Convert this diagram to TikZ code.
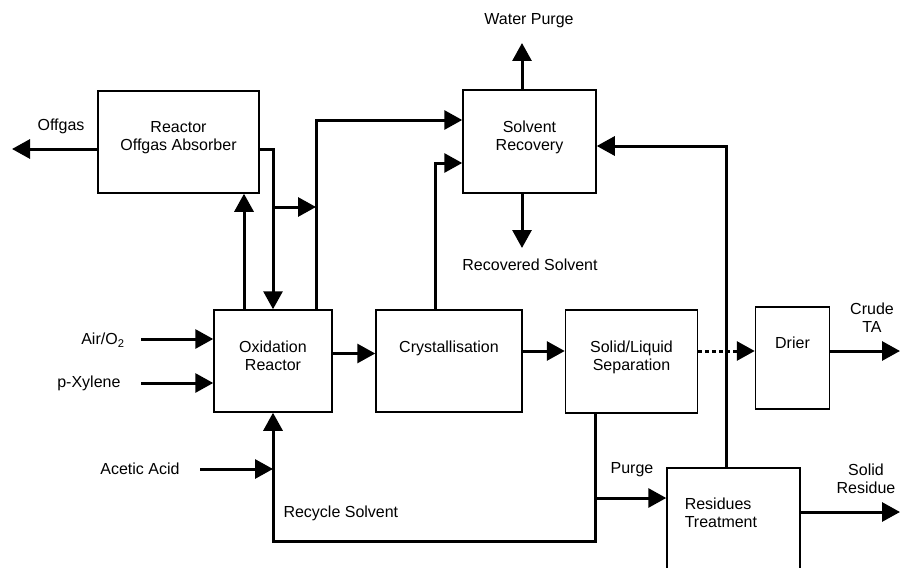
\documentclass[tikz,border=0pt]{standalone}
\usepackage{fontspec}
\setmainfont{Liberation Sans}
\usetikzlibrary{arrows.meta,positioning,calc}
\tikzset{every picture/.style={line width=3pt},
  unit/.style={draw, line width=1.5pt, inner sep=0pt},
  tag/.style={inner sep=0pt, align=center, font=\fontsize{16}{18}\selectfont},
  flow/.style={line width=3pt, -{Triangle[length=18pt,width=19pt]}}}

\begin{document}
\begin{tikzpicture}[x=1pt,y=-1pt]
    \useasboundingbox (0,0) rectangle (901,567);
    \clip (0,0) rectangle (901,567);

    % process units
    \node[unit, minimum width=161pt, minimum height=102pt] (absorber) at (178.5,142) {};
    \node[unit, minimum width=133pt, minimum height=103pt] (solvent) at (529.5,141.5) {};
    \node[unit, minimum width=118pt, minimum height=102pt] (oxid) at (273,361) {};
    \node[unit, minimum width=146pt, minimum height=102pt] (cryst) at (449,361) {};
    \node[unit, minimum width=132pt, minimum height=103pt] (sepn) at (631.5,361.5) {};
    \node[unit, minimum width=74pt, minimum height=102pt] (drier) at (792.5,358) {};
    \node[unit, minimum width=133pt, minimum height=132pt] (residues) at (733.5,534) {};

    % unit names
    \node[tag, below=30pt of absorber.north] (absorbertxt) {Reactor\\Offgas Absorber};
    \node[tag, below=30pt of solvent.north] (solventtxt) {Solvent\\Recovery};
    \node[tag, below=30pt of oxid.north] (oxidtxt) {Oxidation\\Reactor};
    \node[tag, below=30pt of cryst.north] (crysttxt) {Crystallisation};
    \node[tag, below=30pt of sepn.north] (sepntxt) {Solid/Liquid\\Separation};
    \node[tag, below=29pt of drier.north] (driertxt) {Drier};
    \node[tag, align=left, below right=29pt and 17pt of residues.north west] (residuestxt) {Residues\\Treatment};

    % stream names
    \node[tag] (offgas) at (61,126) {Offgas};
    \node[tag] (waterpurge) at (529,21) {Water Purge};
    \node[tag] (recovered) at (530,265) {Recovered Solvent};
    \node[tag, anchor=east] (air) at (126,340) {Air/O\textsubscript{2}};
    \node[tag, anchor=east] (pxylene) at (122,383) {p-Xylene};
    \node[tag, anchor=east] (acetic) at (181,469) {Acetic Acid};
    \node[tag, anchor=west] (recycle) at (282,513) {Recycle Solvent};
    \node[tag] (purge) at (632,470) {Purge};
    \node[tag] (crude) at (872,318) {Crude\\TA};
    \node[tag] (solidres) at (866,479) {Solid\\Residue};

    % free ends and junctions
    \coordinate (offgasend) at (12,149);
    \coordinate (purgetop) at (522,43);
    \coordinate (recend) at (522,248);
    \coordinate (airin) at (141,339);
    \coordinate (pxin) at (141,383);
    \coordinate (acidin) at (200,469);
    \coordinate (crudeend) at (900,351);
    \coordinate (residend) at (900,512);
    \coordinate (split) at (273,207);
    \coordinate (riser) at (316,207);
    \coordinate (vent) at ($(oxid.north)+(-29,0)$);
    \coordinate (sepdrop) at (595,498);
    \coordinate (recbot) at (273,541);

    % absorber
    \draw[flow] (absorber.west |- offgasend) -- (offgasend);
    \draw[flow] (absorber.east |- offgasend) -| (oxid.north);
    \draw[flow] (vent) -- (vent |- absorber.south);
    \draw[flow] (split) -- (riser);

    % to solvent recovery
    \draw[flow] (riser |- oxid.north) |- ($(solvent.west)+(0,-21.5)$);
    \draw[flow] ($(cryst.north)+(-14,0)$) |- ($(solvent.west)+(0,21.5)$);
    \draw[flow] ($(residues.north)+(-7.5,0)$) |- ($(solvent.east)+(0,4.5)$);
    \draw[flow] (solvent.north -| purgetop) -- (purgetop);
    \draw[flow] (solvent.south -| recend) -- (recend);

    % feeds
    \draw[flow] (airin) -- (oxid.west |- airin);
    \draw[flow] (pxin) -- (oxid.west |- pxin);
    \draw[flow] (acidin) -- (recbot |- acidin);

    % main line
    \draw[flow] ($(oxid.east)+(0,-7.5)$) -- ($(cryst.west)+(0,-7.5)$);
    \draw[flow] ($(cryst.east)+(0,-10)$) -- ($(sepn.west)+(0,-10.5)$);
    \draw[flow, dash pattern=on 4pt off 3pt] (sepn.east |- crudeend) -- (drier.west |- crudeend);
    \draw[flow] (drier.east |- crudeend) -- (crudeend);

    % recycle and purge
    \draw[flow] (sepn.south -| sepdrop) |- (recbot) -- (oxid.south);
    \draw[flow] (sepdrop) -- (residues.west |- sepdrop);
    \draw[flow] (residues.east |- residend) -- (residend);
\end{tikzpicture}
\end{document}
